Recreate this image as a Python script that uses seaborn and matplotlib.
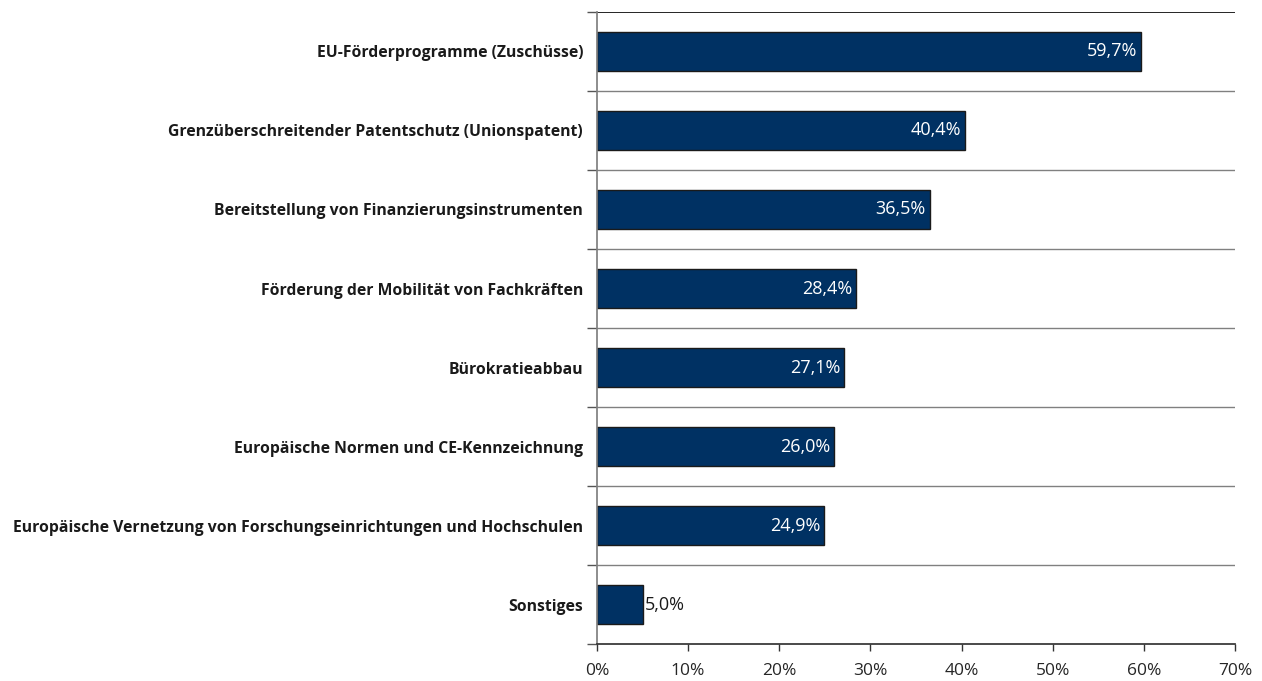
import matplotlib
matplotlib.use("Agg")
import matplotlib.pyplot as plt
import numpy as np
import pandas as pd
import seaborn as sns
from matplotlib.ticker import FixedLocator, PercentFormatter

categories = [
    "EU-Förderprogramme (Zuschüsse)",
    "Grenzüberschreitender Patentschutz (Unionspatent)",
    "Bereitstellung von Finanzierungsinstrumenten",
    "Förderung der Mobilität von Fachkräften",
    "Bürokratieabbau",
    "Europäische Normen und CE-Kennzeichnung",
    "Europäische Vernetzung von Forschungseinrichtungen und Hochschulen",
    "Sonstiges",
]
shares = [59.7, 40.4, 36.5, 28.4, 27.1, 26.0, 24.9, 5.0]

df = pd.DataFrame({"category": categories, "share": shares})

sns.set_theme(style="white")
plt.rcParams["font.family"] = ["Open Sans", "DejaVu Sans"]

fig = plt.figure(figsize=(12.62, 6.81), dpi=100)
ax = fig.add_axes([0.473, 0.0543, 0.9786 - 0.473, 0.9824 - 0.0543])

navy = "#003163"
sns.barplot(data=df, x="share", y="category", orient="h", color=navy,
            saturation=1, width=0.5, edgecolor="#1a1a1a", linewidth=1, ax=ax)

n = len(categories)
ax.set_xlim(0, 70)
ax.set_ylim(n - 0.5, -0.5)
ax.set_xticks(np.arange(0, 71, 10))
ax.xaxis.set_major_formatter(PercentFormatter(decimals=0))
ax.set_xlabel("")
ax.set_ylabel("")

# boundaries between categories
bounds = np.arange(-0.5, n, 1.0)
ax.yaxis.set_minor_locator(FixedLocator(bounds))
for b in bounds[1:-1]:
    ax.axhline(b, color="#808080", linewidth=1, zorder=0)
ax.axhline(-0.5, color="#000000", linewidth=1.2, zorder=0)

ax.tick_params(axis="y", which="major", length=0, pad=10, labelsize=11.3)
ax.tick_params(axis="y", which="minor", length=7, width=1, color="#555555", left=True)
ax.tick_params(axis="x", which="major", length=5, width=1, color="#333333",
               bottom=True, labelsize=12.5, pad=9)
for lbl in ax.get_yticklabels():
    lbl.set_fontweight("bold")
    lbl.set_color("#1a1a1a")

for side in ["top", "right"]:
    ax.spines[side].set_visible(False)
ax.spines["left"].set_color("#808080")
ax.spines["bottom"].set_color("#333333")

for i, v in enumerate(shares):
    txt = f"{v:.1f}%".replace(".", ",")
    if v > 10:
        ax.text(v - 0.4, i, txt, ha="right", va="center", color="white",
                fontsize=13)
    else:
        ax.text(v + 0.3, i, txt, ha="left", va="center", color="#1a1a1a",
                fontsize=13)

fig.savefig("out.png", dpi=100)
